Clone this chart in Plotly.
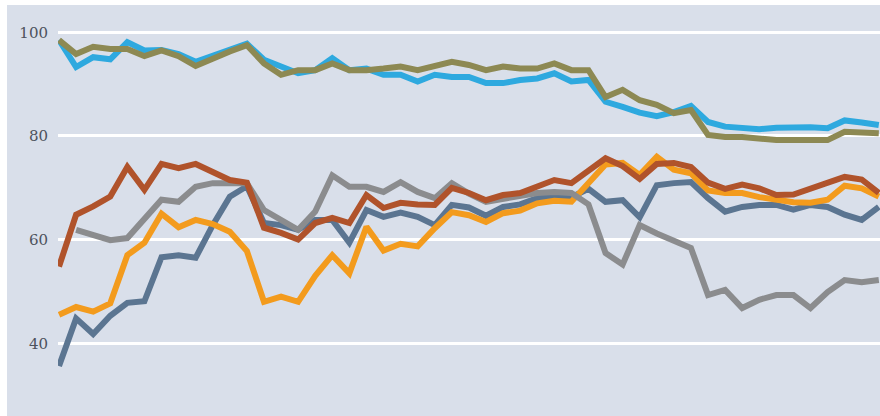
import plotly.graph_objects as go

periods = list(range(49))

light_blue = [98.5, 93.3, 95.2, 94.8, 98.1, 96.5, 96.6, 95.8, 94.3, 95.5, 96.8, 97.8, 94.7, 93.5, 92.1, 92.7,
              95.0, 92.7, 93.0, 91.8, 91.8, 90.5, 91.8, 91.4, 91.4, 90.2, 90.2, 90.8, 91.1, 92.1, 90.5, 90.8,
              86.6, 85.6, 84.5, 83.8, 84.6, 85.8, 82.7, 81.8, 81.5, 81.3, 81.6, 81.7, 81.7, 81.5, 83.0, 82.6, 82.1]

olive = [98.5, 95.8, 97.2, 96.8, 96.8, 95.4, 96.5, 95.4, 93.5, 95.0, 96.3, 97.5, 94.0, 91.8, 92.7, 92.7,
         94.0, 92.7, 92.7, 93.0, 93.4, 92.7, 93.4, 94.3, 93.7, 92.7, 93.4, 93.0, 93.0, 94.0, 92.7, 92.7,
         87.5, 88.9, 86.9, 86.0, 84.4, 85.0, 80.2, 79.8, 79.8, 79.5, 79.2, 79.2, 79.3, 79.2, 80.8, 80.6, 80.5]

brown = [54.8, 64.8, 66.4, 68.3, 74.0, 69.6, 74.6, 73.8, 74.6, 73.0, 71.5, 71.0, 62.3, 61.3, 60.0, 63.2,
         64.2, 63.2, 68.6, 66.1, 67.1, 66.8, 66.7, 70.0, 69.0, 67.6, 68.6, 69.0, 70.2, 71.5, 70.9, 73.4,
         75.7, 74.2, 71.7, 74.6, 74.8, 74.0, 71.0, 69.8, 70.6, 69.9, 68.6, 68.7, 69.9, 70.9, 72.1, 71.6, 69.0]

grey = [None, 61.9, 60.9, 59.9, 60.3, 63.8, 67.7, 67.3, 70.2, 70.9, 71.0, 70.9, 65.7, 63.8, 61.9, 65.4,
        72.4, 70.2, 70.2, 69.2, 71.1, 69.2, 68.0, 70.9, 68.9, 67.3, 67.8, 68.4, 69.0, 69.2, 69.0, 66.8,
        57.4, 55.2, 62.8, 61.2, 59.9, 58.4, 49.3, 50.3, 46.8, 48.4, 49.3, 49.3, 46.8, 49.9, 52.2, 51.8, 52.2]

orange = [45.5, 47.0, 46.1, 47.7, 57.0, 59.4, 65.0, 62.4, 63.8, 63.0, 61.5, 57.8, 48.0, 49.0, 48.0, 53.0,
          57.0, 53.5, 62.5, 57.9, 59.2, 58.7, 62.2, 65.3, 64.7, 63.4, 65.1, 65.6, 67.0, 67.5, 67.3, 71.0,
          74.5, 74.8, 72.5, 76.0, 73.5, 72.8, 69.5, 69.0, 69.0, 68.2, 67.6, 67.2, 67.1, 67.7, 70.4, 69.9, 68.3]

dark_blue = [35.6, 44.8, 41.8, 45.3, 47.8, 48.1, 56.6, 57.0, 56.5, 62.8, 68.3, 70.3, 63.2, 62.8, 61.9, 63.8,
             63.8, 59.4, 65.7, 64.4, 65.2, 64.4, 62.8, 66.7, 66.2, 64.6, 66.3, 66.8, 68.0, 68.4, 68.2, 69.8,
             67.3, 67.6, 64.3, 70.5, 70.9, 71.1, 68.0, 65.4, 66.3, 66.7, 66.7, 65.8, 66.7, 66.3, 64.8, 63.8, 66.3]

y_ticks = [40, 60, 80, 100]
y_tick_labels = ["40", "60", "80", "100"]

series = [
    (dark_blue, "#5b7591"),
    (orange, "#f39b1d"),
    (grey, "#8b8c8e"),
    (brown, "#b0532b"),
    (light_blue, "#2ea9df"),
    (olive, "#8d8953"),
]

fig = go.Figure()
for vals, col in series:
    fig.add_trace(go.Scatter(x=periods, y=vals, mode="lines",
                             line=dict(color=col, width=6),
                             connectgaps=False, hoverinfo="skip"))

BG = "#d9dfea"
W, H = 880, 416
ml, mr, mt, mb = 58, 0, 5, 1
pw, ph = W - ml - mr, H - mt - mb

fig.update_layout(
    width=W, height=H,
    margin=dict(l=ml, r=mr, t=mt, b=mb, pad=0),
    paper_bgcolor=BG, plot_bgcolor=BG,
    showlegend=False,
    xaxis=dict(range=[-0.06, 48.07], visible=False, showgrid=False, zeroline=False),
    yaxis=dict(range=[26.16, 105.27], tickvals=y_ticks, ticktext=y_tick_labels,
               showgrid=True, gridcolor="white", gridwidth=3, zeroline=False,
               showline=False, ticks="", ticklabelstandoff=9,
               tickfont=dict(family="DejaVu Serif", size=15, color="#4d525c")),
    shapes=[
        dict(type="rect", xref="paper", yref="paper", layer="below",
             x0=-ml / pw, x1=-(ml - 7) / pw, y0=-mb / ph, y1=1 + mt / ph,
             fillcolor="white", line=dict(width=0)),
        dict(type="rect", xref="paper", yref="paper", layer="below",
             x0=-ml / pw, x1=1, y0=1, y1=1 + mt / ph,
             fillcolor="white", line=dict(width=0)),
    ],
)

fig.write_html("out.html",
               config={"displayModeBar": False},
               post_script="document.body.style.margin='0';document.body.style.overflow='hidden';")
